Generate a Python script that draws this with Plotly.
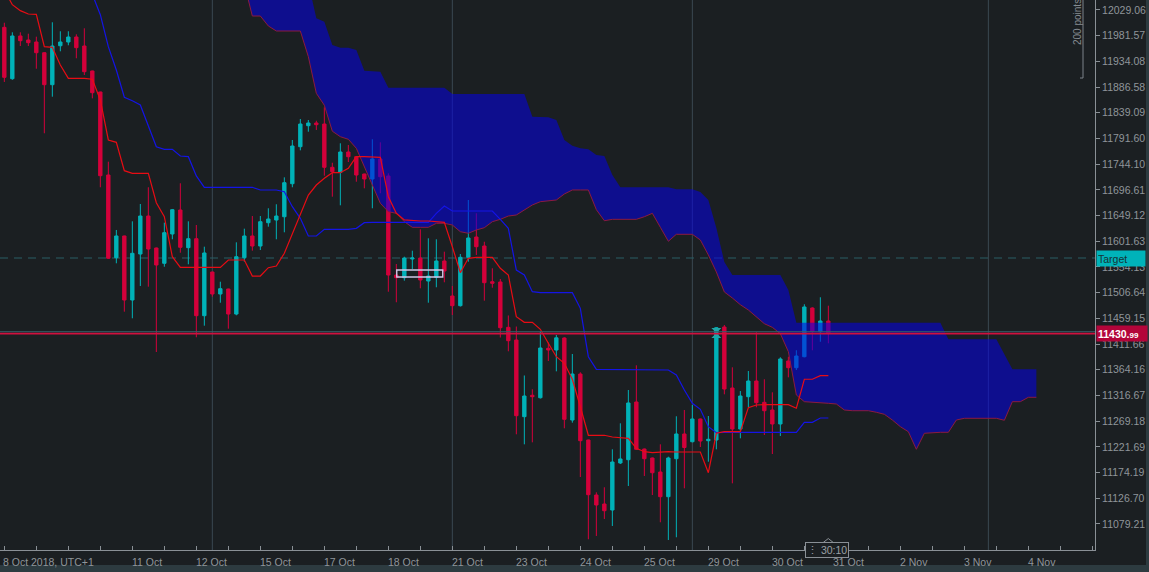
import plotly.graph_objects as go

# ---------------- data ----------------
opens = [11997.0, 11902.1, 11981.0, 11973.6, 11969.9, 11950.1, 11891.0, 11963.0, 11969.9, 11979.1,
         11962.5, 11916.3, 11877.5, 11724.1, 11571.3, 11611.4, 11493.1, 11578.1, 11648.3, 11589.2,
         11560.9, 11615.1, 11659.4, 11589.8, 11606.4, 11464.1, 11544.8, 11504.2, 11513.4, 11467.2,
         11571.3, 11611.4, 11592.9, 11635.9, 11640.9, 11647.0, 11708.0, 11776.4, 11815.2, 11820.2,
         11818.3, 11738.3, 11729.1, 11766.6, 11757.9, 11725.9, 11716.7, 11753.7, 11722.3, 11539.3,
         11534.3, 11568.9, 11570.7, 11528.2, 11535.0, 11565.2, 11500.5, 11482.6, 11572.0, 11609.5,
         11592.9, 11526.9, 11526.4, 11442.6, 11419.2, 11277.5, 11317.0, 11312.5, 11403.8, 11400.7,
         11422.9, 11271.3, 11356.3, 11234.4, 11132.7, 11116.1, 11105.0, 11191.9, 11198.0, 11304.6,
         11217.7, 11201.1, 11175.2, 11129.6, 11199.8, 11245.5, 11231.2, 11273.2, 11233.1, 11234.4,
         11443.2, 11330.5, 11254.7, 11314.4, 11343.4, 11304.0, 11289.8, 11264.0, 11380.4, 11368.0,
         11388.3, 11478.3, 11434.5, 11454.3]
highs = [12005.5, 11987.8, 11987.8, 11985.2, 11979.7, 11951.0, 12006.3, 11989.7, 11989.7, 11984.1,
         11995.2, 11917.0, 11878.0, 11748.7, 11622.5, 11612.0, 11638.5, 11670.5, 11701.4, 11590.0,
         11636.0, 11661.3, 11708.8, 11638.5, 11631.7, 11591.6, 11545.5, 11526.9, 11514.0, 11599.7,
         11624.9, 11648.3, 11648.3, 11662.6, 11670.0, 11719.8, 11788.8, 11827.6, 11825.7, 11824.4,
         11849.2, 11746.8, 11782.7, 11779.5, 11758.5, 11726.5, 11790.1, 11784.5, 11727.2, 11559.6,
         11573.1, 11584.2, 11623.7, 11607.1, 11605.3, 11582.4, 11519.0, 11578.1, 11677.9, 11653.3,
         11600.8, 11551.7, 11531.9, 11464.5, 11444.1, 11353.6, 11328.1, 11434.9, 11414.5, 11428.4,
         11424.2, 11393.3, 11359.5, 11235.0, 11137.7, 11147.0, 11217.2, 11265.2, 11326.8, 11372.4,
         11218.5, 11202.0, 11226.4, 11203.5, 11278.2, 11289.8, 11299.1, 11274.0, 11278.7, 11443.0,
         11446.9, 11368.7, 11324.9, 11361.9, 11433.4, 11346.6, 11322.5, 11387.2, 11388.3, 11400.2,
         11485.2, 11479.6, 11498.1, 11482.6]
lows = [11896.0, 11900.0, 11962.5, 11962.5, 11920.5, 11801.2, 11868.8, 11952.7, 11963.8, 11939.8,
        11908.9, 11865.8, 11701.4, 11569.0, 11560.9, 11471.5, 11459.3, 11519.0, 11517.7, 11397.0,
        11554.6, 11605.3, 11580.5, 11559.1, 11424.2, 11445.6, 11499.2, 11488.1, 11440.1, 11464.8,
        11563.9, 11584.2, 11585.5, 11628.6, 11605.3, 11618.2, 11701.4, 11769.7, 11804.1, 11807.3,
        11722.8, 11684.0, 11668.1, 11748.1, 11711.7, 11699.5, 11662.6, 11690.3, 11508.4, 11488.9,
        11528.8, 11550.4, 11514.7, 11488.1, 11516.6, 11525.8, 11465.4, 11481.0, 11563.9, 11576.3,
        11491.8, 11515.8, 11423.8, 11398.3, 11244.9, 11226.4, 11230.1, 11311.0, 11380.4, 11361.3,
        11256.0, 11266.4, 11166.0, 11050.9, 11057.0, 11088.4, 11075.5, 11190.0, 11149.4, 11216.0,
        11167.9, 11132.7, 11082.3, 11049.6, 11054.6, 11145.1, 11230.0, 11221.4, 11194.3, 11217.2,
        11318.8, 11154.3, 11237.5, 11294.8, 11294.8, 11243.6, 11208.5, 11241.8, 11350.2, 11363.7,
        11387.2, 11400.2, 11416.0, 11413.1]
closes = [11904.6, 11981.0, 11972.3, 11968.6, 11950.1, 11891.0, 11962.5, 11969.9, 11979.1, 11959.4,
          11915.0, 11876.2, 11722.8, 11570.2, 11611.4, 11493.1, 11579.4, 11648.3, 11587.3, 11557.8,
          11617.5, 11660.0, 11590.5, 11606.4, 11464.1, 11580.0, 11504.2, 11514.0, 11467.2, 11573.1,
          11611.4, 11592.9, 11637.8, 11642.8, 11648.3, 11709.9, 11777.7, 11818.3, 11820.2, 11817.1,
          11738.3, 11730.2, 11766.6, 11757.9, 11724.1, 11716.7, 11753.7, 11721.0, 11539.3, 11534.3,
          11570.7, 11570.7, 11530.1, 11537.5, 11565.2, 11546.7, 11482.6, 11572.0, 11607.7, 11591.6,
          11525.1, 11524.0, 11441.9, 11417.9, 11279.3, 11315.7, 11314.4, 11404.4, 11400.7, 11423.2,
          11272.6, 11356.3, 11233.1, 11133.3, 11114.3, 11103.7, 11193.7, 11199.3, 11302.8, 11217.2,
          11199.8, 11173.9, 11129.6, 11201.1, 11245.5, 11220.5, 11273.2, 11232.5, 11235.7, 11441.9,
          11328.6, 11254.7, 11315.7, 11343.4, 11303.3, 11288.5, 11264.0, 11384.1, 11368.0, 11389.6,
          11480.2, 11434.5, 11454.3, 11430.99]

tenkan = [12066, 12038.8, 12027.8, 12021.6, 12021.0, 11961.2, 11960.1, 11927.4, 11902.8, 11902.8,
          11902.8, 11901.0, 11862.7, 11788.8, 11784.5, 11732.1, 11727.2, 11727.2, 11727.2, 11672.9,
          11647.0, 11573.1, 11553.5, 11553.5, 11553.5, 11553.5, 11553.5, 11553.5, 11567.0, 11567.0,
          11567.0, 11537.4, 11537.4, 11552.8, 11555.9, 11579.4, 11616.4, 11650.2, 11687.1, 11705.6,
          11718.0, 11728.4, 11728.4, 11736.5, 11757.9, 11757.9, 11757.9, 11756.8, 11684.0, 11653.3,
          11641.0, 11639.6, 11639.1, 11639.1, 11638.5, 11636.6, 11591.6, 11543.6, 11570.2, 11572.0,
          11572.0, 11572.0, 11551.7, 11539.3, 11462.2, 11451.9, 11451.9, 11439.0, 11413.1, 11388.3,
          11376.1, 11346.6, 11295.9, 11243.1, 11243.1, 11243.1, 11239.9, 11238.6, 11237.5, 11219.0,
          11212.8, 11210.9, 11212.2, 11212.8, 11212.2, 11212.2, 11212.2, 11212.2, 11174.0, 11246.8,
          11249.8, 11249.8, 11249.8, 11294.1, 11299.1, 11299.6, 11299.6, 11299.6, 11299.6, 11293.0,
          11346.6, 11346.6, 11353.2, 11353.2]

kijun = [12110, 12105, 12100, 12095, 12090, 12085, 12080, 12075, 12072, 12068,
         12064, 12058, 12020.4, 11961.2, 11918.1, 11867.7, 11861.4, 11853.5, 11813.4, 11776.4,
         11771.6, 11771.6, 11759.2, 11758.0, 11722.3, 11701.4, 11701.4, 11701.4, 11701.4, 11701.4,
         11701.4, 11701.4, 11696.4, 11696.4, 11696.4, 11693.3, 11665.5, 11644.0, 11611.4, 11611.4,
         11623.7, 11623.7, 11623.7, 11623.7, 11625.6, 11636.0, 11636.7, 11636.7, 11636.7, 11636.7,
         11636.7, 11636.7, 11636.7, 11636.7, 11653.3, 11666.8, 11657.6, 11657.6, 11657.6, 11657.6,
         11657.6, 11657.6, 11642.2, 11625.6, 11548.5, 11539.3, 11508.5, 11506.6, 11506.6, 11506.6,
         11506.6, 11506.6, 11477.7, 11388.3, 11365.0, 11365.0, 11365.0, 11365.0, 11365.0, 11365.0,
         11365.0, 11365.0, 11365.0, 11363.7, 11354.5, 11326.8, 11302.2, 11291.1, 11259.0, 11247.9,
         11248.6, 11248.6, 11248.6, 11248.6, 11248.6, 11248.6, 11248.6, 11248.6, 11248.6, 11248.6,
         11267.1, 11267.1, 11275.0, 11275.0]

# cloud (shifted 26 periods ahead -> 130 points)
span_upper = [12120] * 37 + [12095, 12079,
              12013.7, 12007.4, 11964.4, 11959.4, 11959.4, 11955.1, 11916.9, 11915.7, 11915.0,
              11885.5, 11885.5, 11885.5, 11885.5, 11885.5, 11885.5, 11885.5, 11885.5,
              11873.8, 11873.8, 11873.8, 11873.8, 11873.8, 11873.8, 11873.8, 11873.8, 11873.8, 11873.8,
              11831.8, 11831.3, 11830.7, 11825.7, 11788.8, 11778.3, 11773.4, 11771.6, 11761.1, 11759.2,
              11724.1, 11701.4, 11701.4, 11701.4, 11701.4, 11701.4, 11701.4, 11701.4,
              11697.7, 11697.7, 11697.7, 11692.7, 11677.9, 11626.2, 11563.3,
              11539.3, 11539.3, 11539.3, 11539.3, 11539.3, 11539.3, 11539.3, 11511.6] + \
             [11451.1] * 19 + [11420.5] * 7 + [11392.8, 11365.0, 11365.0, 11365.0, 11365.0]

span_lower = [12110] * 30 + [12077, 12017.9, 12017.9, 11999.5, 11990.2, 11990.2, 11990.2, 11990.2,
              11942.8, 11875.0, 11853.0, 11805.0, 11794.9, 11790.1, 11773.4, 11739.5, 11702.5, 11671.8,
              11656.3, 11653.3, 11637.8, 11627.4, 11627.4, 11627.4, 11634.8, 11634.8, 11631.7, 11619.3,
              11616.4, 11622.5, 11626.7, 11637.8, 11642.2, 11648.3, 11650.2, 11659.4, 11668.7, 11674.8,
              11676.6, 11677.9, 11689.0, 11696.4, 11696.4, 11696.4, 11660.0, 11639.6, 11642.2, 11642.2,
              11642.2, 11642.2, 11647.0, 11653.3, 11627.4, 11601.6, 11614.5, 11614.5, 11614.5, 11604.0,
              11576.3, 11544.8, 11507.9, 11496.8, 11484.4, 11474.6, 11461.1, 11449.3, 11442.6, 11430.8,
              11397.6, 11317.5, 11305.2, 11304.6, 11303.3, 11302.2, 11300.9, 11289.8, 11288.5, 11288.5,
              11288.5, 11285.6, 11281.9, 11271.3, 11259.0, 11249.7, 11217.2, 11246.8, 11247.9, 11248.6,
              11248.6, 11271.3, 11274.5, 11274.5, 11274.5, 11274.5, 11274.5, 11270.8, 11305.2, 11305.2,
              11313.3, 11313.3]

date_labels = ["11 Oct", "12 Oct", "15 Oct", "17 Oct", "18 Oct", "21 Oct", "23 Oct", "24 Oct",
               "25 Oct", "29 Oct", "30 Oct", "31 Oct", "2 Nov", "3 Nov", "4 Nov"]
date_label_pos = [16, 24, 32, 40, 48, 56, 64, 72, 80, 88, 96, 103.6, 112, 120, 128]
first_label = "8 Oct 2018, UTC+1"
separators = [26, 56, 86, 123]
price_ticks = [12029.06, 11981.57, 11934.08, 11886.58, 11839.09, 11791.60, 11744.10, 11696.61,
               11649.12, 11601.63, 11554.13, 11506.64, 11459.15, 11411.66, 11364.16, 11316.67,
               11269.18, 11221.69, 11174.19, 11126.70, 11079.21]
last_price = 11430.99
ask_price = 11434.5
target_price = 11570.7
marker_idx = 89
marker_price = 11432.0
sel_box = dict(x0=49.05, x1=54.8, y0=11535.6, y1=11548.5)

# ---------------- styling ----------------
BG = "#1b1f22"
TEAL = "#00b2b8"
RED = "#d4003b"
AXIS = "#8a9096"
TXT = "#8f959a"
FONT = "Liberation Sans"

idx = list(range(len(opens)))
cloud_x = list(range(len(span_upper)))

fig = go.Figure()
fig.add_trace(go.Candlestick(
    x=idx, open=opens, high=highs, low=lows, close=closes,
    increasing=dict(line=dict(color=TEAL, width=1), fillcolor=TEAL),
    decreasing=dict(line=dict(color=RED, width=1), fillcolor=RED),
    whiskerwidth=0, showlegend=False, hoverinfo="skip"))

fig.add_trace(go.Scatter(x=cloud_x, y=span_upper, mode="lines",
                         line=dict(width=0, color="rgba(0,0,0,0)"),
                         showlegend=False, hoverinfo="skip"))
fig.add_trace(go.Scatter(x=cloud_x, y=span_lower, mode="lines",
                         line=dict(width=1, color="#8c1a40"),
                         fill="tonexty", fillcolor="rgba(3,0,234,0.54)",
                         showlegend=False, hoverinfo="skip"))
fig.add_trace(go.Scatter(x=idx, y=kijun, mode="lines",
                         line=dict(width=1.2, color="#1414e6"),
                         showlegend=False, hoverinfo="skip"))
fig.add_trace(go.Scatter(x=idx, y=tenkan, mode="lines",
                         line=dict(width=1.2, color="#e80c14"),
                         showlegend=False, hoverinfo="skip"))
fig.add_trace(go.Scatter(x=[marker_idx], y=[marker_price], mode="markers",
                         marker=dict(symbol="hourglass", size=10, color="#1fa6a8"),
                         showlegend=False, hoverinfo="skip"))

shapes = []
for s in separators:
    shapes.append(dict(type="line", xref="x", yref="paper", x0=s, x1=s, y0=0, y1=1,
                       line=dict(color="#3a4852", width=1), layer="below"))
shapes.append(dict(type="line", xref="paper", yref="y", x0=0, x1=1, y0=target_price, y1=target_price,
                   line=dict(color="#2a5f64", width=1.2, dash="8px,6px"), layer="below"))
shapes.append(dict(type="line", xref="paper", yref="y", x0=0, x1=1, y0=ask_price, y1=ask_price,
                   line=dict(color="#33606a", width=1), layer="above"))
shapes.append(dict(type="line", xref="paper", yref="y", x0=0, x1=1, y0=last_price, y1=last_price,
                   line=dict(color="#d0103e", width=1.6), layer="above"))
shapes.append(dict(type="rect", xref="x", yref="y", line=dict(color="#cfc6e6", width=1.4),
                   fillcolor="rgba(0,0,0,0)", **sel_box))
# bottom / right strips
shapes.append(dict(type="rect", xref="paper", yref="paper", x0=-0.01, x1=1.06, y0=-0.0273, y1=-0.045,
                   fillcolor="#2d3b40", line=dict(width=0)))
shapes.append(dict(type="rect", xref="paper", yref="paper", x0=1146 / 1095, x1=1.06, y0=1.01, y1=-0.045,
                   fillcolor="#2d3b40", line=dict(width=0)))
# 200 points bracket
shapes.append(dict(type="line", xref="paper", yref="paper", x0=1083 / 1095, x1=1083 / 1095,
                   y0=1, y1=(550 - 78) / 550, line=dict(color="#7c838a", width=1)))
shapes.append(dict(type="line", xref="paper", yref="paper", x0=1080 / 1095, x1=1083 / 1095,
                   y0=(550 - 78) / 550, y1=(550 - 78) / 550, line=dict(color="#7c838a", width=1)))
# caret of time box
shapes.append(dict(type="path", xref="paper", yref="paper",
                   path="M %f,%f L %f,%f L %f,%f" % (822 / 1095, (550 - 543.5) / 550, 828.3 / 1095,
                                                    (550 - 538.5) / 550, 834.5 / 1095, (550 - 543.5) / 550),
                   line=dict(color="#8a9096", width=1), fillcolor=BG))

annotations = []
for lab, pos in zip(date_labels, date_label_pos):
    annotations.append(dict(x=pos, y=0, xref="x", yref="paper", text=lab, showarrow=False,
                            xanchor="left", yanchor="top", xshift=-2, yshift=-4,
                            font=dict(family=FONT, size=10.5, color=TXT)))
annotations.append(dict(x=0, y=0, xref="paper", yref="paper", text=first_label, showarrow=False,
                        xanchor="left", yanchor="top", xshift=1, yshift=-4,
                        font=dict(family=FONT, size=10.5, color=TXT)))
annotations.append(dict(x=1, y=target_price, xref="paper", yref="y", text="Target", showarrow=False,
                        xanchor="left", yanchor="middle", xshift=1, width=46, height=13, align="left",
                        bgcolor="#00b3b9", borderpad=1,
                        font=dict(family=FONT, size=10.5, color="#163236")))
annotations.append(dict(x=1, y=last_price, xref="paper", yref="y",
                        text="<b>11430.</b><span style='font-size:8px'><b>99</b></span>",
                        showarrow=False, xanchor="left", yanchor="middle", xshift=1, width=48, height=13,
                        align="left", bgcolor="#b3053a", borderpad=1,
                        font=dict(family=FONT, size=10.5, color="#ffffff")))
annotations.append(dict(x=1077 / 1095, y=(550 - 22) / 550, xref="paper", yref="paper", text="200 points",
                        textangle=-90, showarrow=False, xanchor="center", yanchor="middle",
                        font=dict(family=FONT, size=10, color="#858b91")))
annotations.append(dict(x=826.5 / 1095, y=(550 - 549.5) / 550, xref="paper", yref="paper",
                        text="⋮ 30:10", showarrow=False, xanchor="center", yanchor="middle",
                        bgcolor=BG, bordercolor="#8a9096", borderwidth=1, borderpad=1,
                        font=dict(family=FONT, size=10.5, color="#9aa0a5")))

fig.update_layout(
    width=1149, height=572,
    margin=dict(l=0, r=54, t=0, b=22),
    paper_bgcolor=BG, plot_bgcolor=BG,
    showlegend=False,
    boxgap=0.4,
    shapes=shapes, annotations=annotations,
    xaxis=dict(range=[-0.541, 136.33], showgrid=False, zeroline=False,
               showline=True, linecolor=AXIS, linewidth=1,
               ticks="inside", ticklen=4, tickcolor=AXIS,
               tickvals=list(range(0, 137, 4)), showticklabels=False,
               rangeslider=dict(visible=False), fixedrange=True),
    yaxis=dict(range=[11031.1, 12047.5], side="right", showgrid=False, zeroline=False,
               showline=True, linecolor=AXIS, linewidth=1,
               ticks="outside", ticklen=4, tickcolor=AXIS,
               tickvals=price_ticks, ticktext=["%.2f" % v for v in price_ticks],
               tickfont=dict(family=FONT, size=10.5, color=TXT), fixedrange=True),
)

fig.write_html("out.html", config={"displayModeBar": False},
               post_script="document.body.style.margin='0';document.body.style.overflow='hidden';"
                           "document.body.style.background='%s';" % BG)
